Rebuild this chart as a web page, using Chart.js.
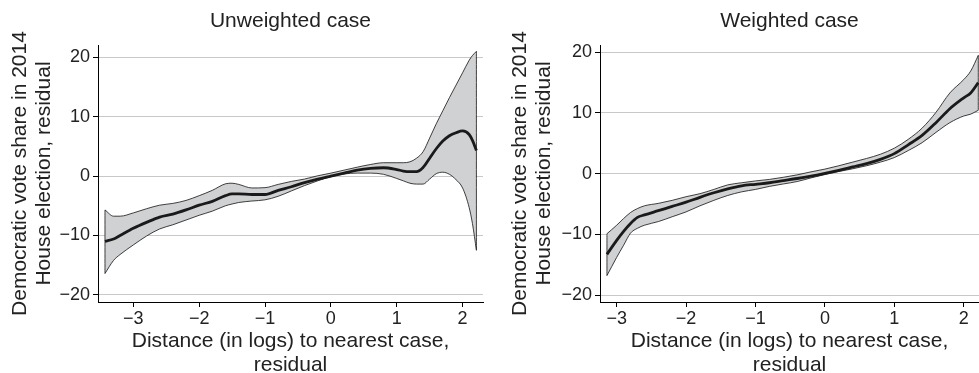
<!DOCTYPE html>
<html>
<head>
<meta charset="utf-8">
<script src="https://cdn.jsdelivr.net/npm/chart.js@4.4.1/dist/chart.umd.min.js"></script>
<style>
  html, body { margin: 0; padding: 0; background: #fff; }
  #wrap { position: relative; width: 979px; height: 373px; overflow: hidden; }
  canvas { position: absolute; top: 0; }
</style>
</head>
<body>
<div id="wrap">
  <canvas id="left" width="490" height="373" style="left:0;width:490px;height:373px"></canvas>
  <canvas id="right" width="489" height="373" style="left:490px;width:489px;height:373px"></canvas>
</div>
<script>
// tick values shared by both panels
const yTicks = [-20, -10, 0, 10, 20];
const xTicks = [-3, -2, -1, 0, 1, 2];

// Unweighted case: fitted line and confidence band
const unwX = [-3.43, -3.3, -3.2, -3.0, -2.8, -2.6, -2.4, -2.2, -2.0, -1.8, -1.6, -1.5, -1.4, -1.2, -1.0,
  -0.8, -0.6, -0.4, -0.2, 0, 0.2, 0.4, 0.6, 0.8, 1.0, 1.1, 1.2, 1.3, 1.4, 1.5, 1.6, 1.7, 1.8, 1.9, 2.0, 2.1, 2.15, 2.21];
const unwFit = [-11.0, -10.6, -10.0, -8.8, -7.8, -6.9, -6.4, -5.7, -4.9, -4.25, -3.3, -3.0, -3.0, -3.1, -3.1,
  -2.4, -1.8, -1.1, -0.5, 0.0, 0.5, 1.0, 1.3, 1.4, 1.1, 0.85, 0.75, 0.75, 1.45, 3.0, 4.6, 5.9, 6.8, 7.3, 7.6, 7.0, 6.0, 4.3];
const unwHi = [-5.7, -6.75, -6.75, -6.2, -5.5, -4.9, -4.6, -4.1, -3.3, -2.4, -1.3, -1.2, -1.4, -2.0, -1.95,
  -1.4, -0.9, -0.5, 0.05, 0.5, 1.0, 1.5, 1.95, 2.25, 2.25, 2.25, 2.4, 3.0, 4.1, 6.4, 8.8, 11.0, 13.2, 15.3, 17.4, 19.5, 20.3, 21.0];
const unwLo = [-16.4, -14.2, -13.2, -11.6, -10.1, -8.9, -8.2, -7.4, -6.6, -5.9, -5.0, -4.7, -4.45, -4.2, -4.0,
  -3.4, -2.5, -1.6, -0.8, -0.1, 0.35, 0.5, 0.5, 0.3, -0.4, -0.8, -1.2, -1.35, -1.35, -0.5, 0.4, 0.65, 0.3, -0.6, -2.0, -5.3, -8.0, -12.5];

// Weighted case
const wX = [-3.14, -3.0, -2.9, -2.8, -2.7, -2.6, -2.4, -2.2, -2.0, -1.8, -1.6, -1.4, -1.2, -1.0, -0.8, -0.6,
  -0.4, -0.2, 0, 0.2, 0.4, 0.6, 0.8, 1.0, 1.2, 1.4, 1.6, 1.8, 2.0, 2.1, 2.21];
const wFit = [-13.3, -11.0, -9.5, -8.2, -7.2, -6.8, -6.1, -5.4, -4.7, -3.9, -3.15, -2.5, -2.0, -1.75, -1.5, -1.15,
  -0.8, -0.4, 0.05, 0.55, 1.1, 1.65, 2.35, 3.3, 4.75, 6.3, 8.4, 10.7, 12.5, 13.3, 15.0];
const wHi = [-9.9, -8.5, -7.4, -6.4, -5.75, -5.3, -4.9, -4.4, -3.8, -3.3, -2.6, -1.85, -1.5, -1.2, -0.95, -0.6,
  -0.2, 0.3, 0.75, 1.3, 1.9, 2.5, 3.2, 4.2, 5.65, 7.5, 10.1, 13.3, 15.5, 16.9, 19.5];
const wLo = [-16.8, -13.8, -11.8, -9.8, -9.0, -8.5, -7.9, -7.1, -6.3, -5.3, -4.4, -3.6, -3.0, -2.6, -2.1, -1.7,
  -1.3, -0.7, -0.15, 0.35, 0.8, 1.3, 1.9, 2.65, 3.8, 5.1, 6.8, 8.4, 9.5, 9.8, 10.45];

const yTitle = ['Democratic vote share in 2014', 'House election, residual'];
const xTitle = ['Distance (in logs) to nearest case,', 'residual'];

const FONT = 'Liberation Sans, Arial, Helvetica, sans-serif';
const INK = '#222';

const fmt = v => (v < 0 ? '\u2212' + Math.abs(v) : String(v));
const pts = (xs, ys) => xs.map((x, i) => ({ x: x, y: ys[i] }));

function makePanel(id, title, xs, fit, hi, lo, xr, yr, axisW, padRight, yTitlePad) {
  const n = xs.length - 1;
  const thin = { borderColor: '#111', borderWidth: 0.8, pointRadius: 0, cubicInterpolationMode: 'monotone' };
  return new Chart(document.getElementById(id), {
    type: 'line',
    data: {
      datasets: [
        { data: pts(xs, fit), borderColor: '#1a1a1a', borderWidth: 2.8, pointRadius: 0,
          cubicInterpolationMode: 'monotone', fill: false },
        Object.assign({ data: pts(xs, hi), fill: '+1', backgroundColor: '#d0d1d3' }, thin),
        Object.assign({ data: pts(xs, lo), fill: false }, thin),
        // closing edges of the band
        Object.assign({ data: [{ x: xs[0], y: lo[0] }, { x: xs[0], y: hi[0] }], fill: false }, thin),
        Object.assign({ data: [{ x: xs[n], y: lo[n] }, { x: xs[n], y: hi[n] }], fill: false }, thin)
      ]
    },
    options: {
      responsive: false,
      animation: false,
      devicePixelRatio: 1,
      layout: { padding: { left: 0, right: padRight, top: 0, bottom: 0 } },
      plugins: {
        legend: { display: false },
        tooltip: { enabled: false },
        filler: { drawTime: 'beforeDatasetsDraw' },
        title: {
          display: true, text: title, color: INK, fullSize: false,
          font: { family: FONT, size: 21, weight: 'normal', lineHeight: 1.2 },
          padding: { top: 9, bottom: 10.8 }
        }
      },
      scales: {
        x: {
          type: 'linear', min: xr[0], max: xr[1],
          afterBuildTicks: s => { s.ticks = xTicks.map(v => ({ value: v })); },
          afterFit: s => { s.height = 71; },
          grid: { drawOnChartArea: false, drawTicks: true, tickLength: 5, tickColor: '#000' },
          border: { display: true, color: '#000', width: 1 },
          ticks: { color: INK, font: { family: FONT, size: 18 }, padding: 1, maxRotation: 0, callback: fmt },
          title: { display: true, text: xTitle, color: INK, padding: { top: 0, bottom: -4 },
            font: { family: FONT, size: 21, lineHeight: 1.14 } }
        },
        y: {
          type: 'linear', min: yr[0], max: yr[1],
          afterBuildTicks: s => { s.ticks = yTicks.map(v => ({ value: v })); },
          afterFit: s => { s.width = axisW; },
          grid: { color: '#c8c8c8', lineWidth: 1, drawTicks: true, tickLength: 5, tickColor: '#000' },
          border: { display: true, color: '#000', width: 1 },
          ticks: { color: INK, font: { family: FONT, size: 18 }, padding: 3, callback: fmt },
          title: { display: true, text: yTitle, color: INK, padding: { top: yTitlePad, bottom: 0 },
            font: { family: FONT, size: 21, lineHeight: 1.14 } }
        }
      }
    }
  });
}

makePanel('left', 'Unweighted case', unwX, unwFit, unwHi, unwLo, [-3.536, 2.31], [-21.2, 22.07], 98, 7, 8.4);
makePanel('right', 'Weighted case', wX, wFit, wHi, wLo, [-3.24, 2.22], [-21.15, 21.2], 110, 0, 18.4);
</script>
</body>
</html>
